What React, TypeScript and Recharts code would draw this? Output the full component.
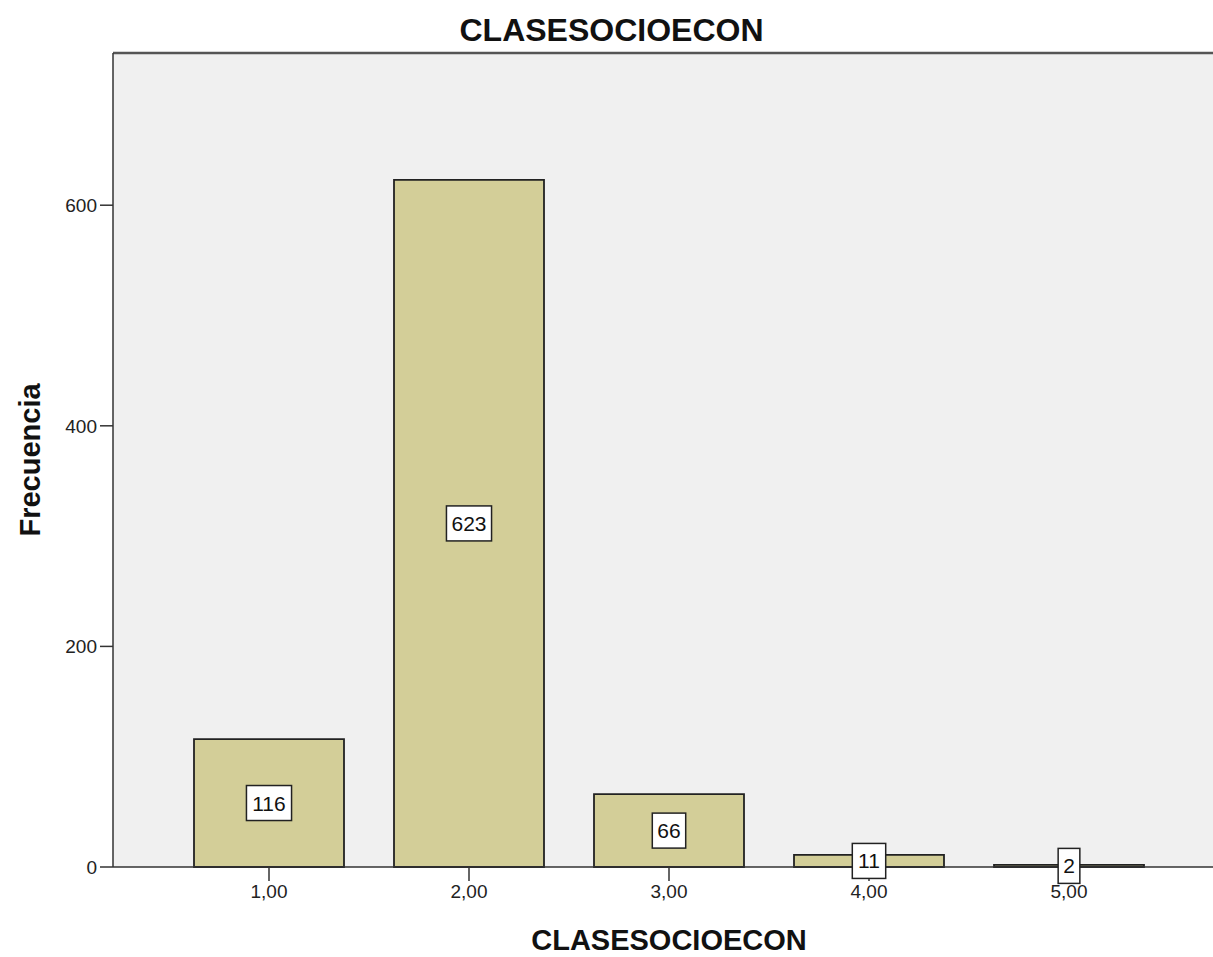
import React from 'react';
import {
  BarChart,
  Bar,
  XAxis,
  YAxis,
  CartesianGrid,
  ReferenceLine,
  LabelList,
} from 'recharts';

const categories = ['1,00', '2,00', '3,00', '4,00', '5,00'];
const frequencies = [116, 623, 66, 11, 2];
const yTicks = [0, 200, 400, 600];
const yMax = 738;

const data = categories.map((name, i) => ({ name, value: frequencies[i] }));

const FONT = 'Arial, "Liberation Sans", Helvetica, sans-serif';

const CountBox = (props: any) => {
  const { x, y, width, height, value } = props;
  const cx = x + width / 2;
  const cy = y + height / 2;
  const txt = String(value);
  const w = txt.length * 11.7 + 10;
  const h = 35;
  return (
    <g>
      <rect
        x={cx - w / 2}
        y={cy - h / 2}
        width={w}
        height={h}
        fill="#fff"
        stroke="#222"
        strokeWidth={1.5}
      />
      <text
        x={cx}
        y={cy}
        textAnchor="middle"
        dominantBaseline="central"
        fontSize={21}
        fontFamily={FONT}
        fill="#111"
      >
        {txt}
      </text>
    </g>
  );
};

const YTitle = (props: any) => {
  const { viewBox } = props;
  const cy = viewBox.y + viewBox.height / 2;
  return (
    <text
      x={40}
      y={cy}
      transform={`rotate(-90, 40, ${cy})`}
      textAnchor="middle"
      fontSize={29}
      fontWeight="bold"
      fontFamily={FONT}
      fill="#111"
    >
      Frecuencia
    </text>
  );
};

const XTitle = (props: any) => {
  const { viewBox } = props;
  return (
    <text
      x={viewBox.x + viewBox.width / 2}
      y={viewBox.y + viewBox.height - 7}
      textAnchor="middle"
      fontSize={29}
      fontWeight="bold"
      fontFamily={FONT}
      fill="#111"
    >
      CLASESOCIOECON
    </text>
  );
};

export default function App() {
  return (
    <div
      style={{
        position: 'absolute',
        left: 0,
        top: 0,
        width: 1213,
        height: 957,
        overflow: 'hidden',
        background: '#fff',
        fontFamily: FONT,
      }}
    >
      <div
        style={{
          position: 'absolute',
          left: 0,
          top: 14,
          width: 1223,
          textAlign: 'center',
          fontSize: 32,
          lineHeight: '32px',
          fontWeight: 'bold',
          color: '#111',
        }}
      >
        CLASESOCIOECON
      </div>
      <BarChart
        width={1240}
        height={957}
        data={data}
        margin={{ top: 53, right: 15, left: 0, bottom: 0 }}
        barSize={150}
      >
        <CartesianGrid
          fill="#F0F0F0"
          horizontal={false}
          vertical={false}
          stroke="none"
        />
        <XAxis
          dataKey="name"
          height={90}
          padding={{ left: 56, right: 56 }}
          axisLine={{ stroke: '#333', strokeWidth: 1.5 }}
          tickLine={{ stroke: '#333', strokeWidth: 1.5 }}
          tickSize={14}
          tickMargin={4}
          tick={{ fontSize: 19, fill: '#222', fontFamily: FONT }}
          label={<XTitle />}
        />
        <YAxis
          width={113}
          domain={[0, yMax]}
          ticks={yTicks}
          axisLine={{ stroke: '#333', strokeWidth: 1.5 }}
          tickLine={{ stroke: '#333', strokeWidth: 1.5 }}
          tickSize={13}
          tickMargin={3}
          tick={{ fontSize: 19, fill: '#222', fontFamily: FONT }}
          label={<YTitle />}
        />
        <ReferenceLine y={yMax} stroke="#555" strokeWidth={2.5} />
        <Bar
          dataKey="value"
          fill="#D3CE98"
          stroke="#222"
          strokeWidth={1.8}
          isAnimationActive={false}
        >
          <LabelList dataKey="value" content={<CountBox />} />
        </Bar>
      </BarChart>
    </div>
  );
}
